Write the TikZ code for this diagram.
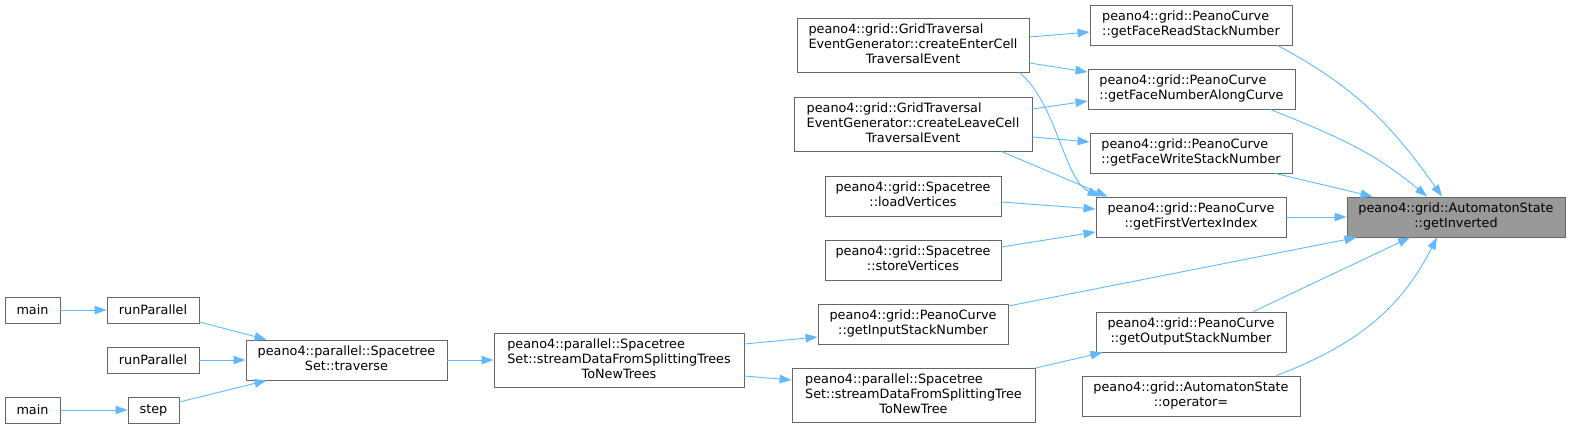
\documentclass[tikz,border=0pt]{standalone}
\usepackage{fontspec}
\setmainfont{DejaVu Sans}
\usetikzlibrary{arrows.meta}
\definecolor{callline}{HTML}{63B8FF}
\definecolor{boxline}{HTML}{666666}
\definecolor{selfill}{HTML}{999999}
\tikzset{
  fnbox/.style={draw=boxline,fill=white,line width=0.9pt,inner sep=0pt,minimum height=40pt},
  fnsel/.style={fnbox,fill=selfill},
  fnsmall/.style={fnbox,minimum height=26pt},
  fntall/.style={fnbox,minimum height=54pt},
  carr/.style={-{Triangle[length=12pt,width=8.5pt]},line width=0.9pt,draw=callline}
}
\newcommand{\fnlabel}[2]{\begin{tabular}{@{}l@{}}#1\\\multicolumn{1}{@{}c@{}}{#2}\end{tabular}}

\begin{document}
\begin{tikzpicture}[x=1pt,y=-1pt,font=\fontsize{12.8}{15}\selectfont]
  \useasboundingbox (0,0) rectangle (1571,429);
  \node[fnsel,minimum width=218pt] (inv) at (1456,217) {\fnlabel{peano4::grid::AutomatonState}{::getInverted}};
  \node[fnbox,minimum width=202pt] (read) at (1191,25) {\fnlabel{peano4::grid::PeanoCurve}{::getFaceReadStackNumber}};
  \node[fnbox,minimum width=207pt] (along) at (1191.5,89) {\fnlabel{peano4::grid::PeanoCurve}{::getFaceNumberAlongCurve}};
  \node[fnbox,minimum width=202pt] (write) at (1191,153) {\fnlabel{peano4::grid::PeanoCurve}{::getFaceWriteStackNumber}};
  \node[fnbox,minimum width=190pt] (first) at (1191,217) {\fnlabel{peano4::grid::PeanoCurve}{::getFirstVertexIndex}};
  \node[fnbox,minimum width=190pt] (output) at (1191,332) {\fnlabel{peano4::grid::PeanoCurve}{::getOutputStackNumber}};
  \node[fnbox,minimum width=218pt] (oper) at (1191,396) {\fnlabel{peano4::grid::AutomatonState}{::operator=}};
  \node[fntall,minimum width=232pt] (enter) at (913,45) {\fnlabel{peano4::grid::GridTraversal\\EventGenerator::createEnterCell}{TraversalEvent}};
  \node[fntall,minimum width=238pt] (leave) at (913,124) {\fnlabel{peano4::grid::GridTraversal\\EventGenerator::createLeaveCell}{TraversalEvent}};
  \node[fnbox,minimum width=176pt] (load) at (913,196) {\fnlabel{peano4::grid::Spacetree}{::loadVertices}};
  \node[fnbox,minimum width=176pt] (store) at (913,260) {\fnlabel{peano4::grid::Spacetree}{::storeVertices}};
  \node[fnbox,minimum width=190pt] (input) at (913,324) {\fnlabel{peano4::grid::PeanoCurve}{::getInputStackNumber}};
  \node[fntall,minimum width=243pt] (tree) at (913.5,395.5) {\fnlabel{peano4::parallel::Spacetree\\Set::streamDataFromSplittingTree}{ToNewTree}};
  \node[fntall,minimum width=250pt] (trees) at (619,360) {\fnlabel{peano4::parallel::Spacetree\\Set::streamDataFromSplittingTrees}{ToNewTrees}};
  \node[fnbox,minimum width=201pt] (trav) at (346.5,360) {\fnlabel{peano4::parallel::Spacetree}{Set::traverse}};
  \node[fnsmall,minimum width=92pt] (run1) at (153,310) {runParallel};
  \node[fnsmall,minimum width=92pt] (run2) at (153,360) {runParallel};
  \node[fnsmall,minimum width=51pt] (stepfn) at (153.5,410) {step};
  \node[fnsmall,minimum width=55pt] (main1) at (32.5,310) {main};
  \node[fnsmall,minimum width=55pt] (main2) at (32.5,410) {main};

  \draw[carr] ([yshift=8]enter.east) -- ([yshift=-7]read.west);
  \draw[carr] ([yshift=-18]enter.east) -- ([yshift=17]along.west);
  \draw[carr] ([xshift=-10]enter.south east) .. controls +(38,32) and +(-36,-17) .. ([xshift=4]first.north west);
  \draw[carr] ([yshift=15]leave.east) -- ([yshift=-12]along.west);
  \draw[carr] ([yshift=-13]leave.east) -- ([yshift=11]write.west);
  \draw[carr] ([xshift=-31]leave.south east) -- ([xshift=12]first.north west);
  \draw[carr] ([yshift=-6]load.east) -- ([yshift=8]first.west);
  \draw[carr] ([yshift=13]store.east) -- ([yshift=-15]first.west);
  \draw[carr] ([xshift=-15]read.south east) to[out=-28,in=125] ([xshift=-14]inv.north);
  \draw[carr] ([xshift=-25]along.south east) to[out=-22,in=140] ([xshift=-29]inv.north);
  \draw[carr] ([xshift=-17]write.south east) -- ([xshift=26]inv.north west);
  \draw[carr] (first) -- (inv);
  \draw[carr] ([yshift=18]input.east) -- ([xshift=10]inv.south west);
  \draw[carr] ([xshift=-33]output.north east) -- ([xshift=-46]inv.south);
  \draw[carr] ([xshift=-24]oper.north east) to[out=21,in=-117] ([xshift=-19]inv.south);
  \draw[carr] (tree.north east) -- ([xshift=7]output.south west);
  \draw[carr] ([yshift=16]trees.east) -- ([yshift=-13]input.west);
  \draw[carr] ([yshift=-16]trees.east) -- ([yshift=15.5]tree.west);
  \draw[carr] (trav) -- (trees);
  \draw[carr] ([yshift=-12]run1.east) -- ([xshift=21]trav.north west);
  \draw[carr] (run2) -- (trav);
  \draw[carr] ([yshift=8]stepfn.east) -- ([xshift=21]trav.south west);
  \draw[carr] (main1) -- (run1); \draw[carr] (main2) -- (stepfn);
\end{tikzpicture}
\end{document}
